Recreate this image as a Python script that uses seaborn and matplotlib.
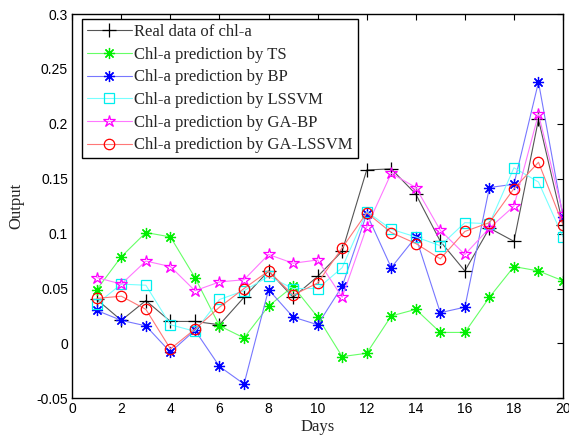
import matplotlib
matplotlib.use("Agg")
import matplotlib.pyplot as plt
import seaborn as sns
import pandas as pd

days = list(range(1, 21))
real = [0.040, 0.021, 0.039, 0.020, 0.020, 0.017, 0.042, 0.066, 0.042, 0.061,
        0.084, 0.158, 0.159, 0.136, 0.093, 0.066, 0.105, 0.093, 0.204, 0.108]
ts = [0.049, 0.079, 0.101, 0.097, 0.060, 0.016, 0.005, 0.034, 0.052, 0.024,
      -0.012, -0.009, 0.025, 0.031, 0.010, 0.010, 0.042, 0.070, 0.066, 0.057]
bp = [0.030, 0.021, 0.016, -0.008, 0.012, -0.021, -0.037, 0.049, 0.024, 0.017,
      0.052, 0.118, 0.069, 0.097, 0.028, 0.033, 0.142, 0.145, 0.238, 0.115]
lssvm = [0.036, 0.054, 0.053, 0.017, 0.011, 0.040, 0.048, 0.061, 0.050, 0.050,
         0.069, 0.120, 0.104, 0.097, 0.089, 0.110, 0.109, 0.160, 0.147, 0.097]
gabp = [0.060, 0.054, 0.075, 0.070, 0.048, 0.056, 0.058, 0.081, 0.073, 0.076,
        0.042, 0.106, 0.155, 0.142, 0.103, 0.081, 0.105, 0.125, 0.209, 0.118]
galssvm = [0.041, 0.043, 0.031, -0.005, 0.013, 0.033, 0.050, 0.066, 0.044, 0.055,
           0.087, 0.119, 0.101, 0.091, 0.077, 0.102, 0.110, 0.141, 0.165, 0.108]

labels = ["Real data of chl-a", "Chl-a prediction by TS", "Chl-a prediction by BP",
          "Chl-a prediction by LSSVM", "Chl-a prediction by GA-BP",
          "Chl-a prediction by GA-LSSVM"]
xticks = [0, 2, 4, 6, 8, 10, 12, 14, 16, 18, 20]
yticks = [-0.05, 0, 0.05, 0.1, 0.15, 0.2, 0.25, 0.3]
ytick_labels = ["-0.05", "0", "0.05", "0.1", "0.15", "0.2", "0.25", "0.3"]

sns.set_theme(style="white")
plt.rcParams["font.family"] = ["Liberation Sans", "DejaVu Sans"]

fig = plt.figure(figsize=(5.69, 4.40), dpi=100)
ax = fig.add_axes([0.127, 0.0948, 0.9895 - 0.127, 0.968 - 0.0948])

asterisk = (8, 2, 0)
styles = [
    dict(color="#555555", mec="black", marker="+", ms=10, mew=0.9),
    dict(color="#66ff66", mec="#00ee00", marker=asterisk, ms=8, mew=0.9),
    dict(color="#7777ff", mec="#0000ff", marker=asterisk, ms=8, mew=0.9),
    dict(color="#77ffff", mec="#00eeee", marker="s", ms=7.5, mew=0.9, mfc="none"),
    dict(color="#ff77ff", mec="#ff00ff", marker="*", ms=9, mew=0.9, mfc="none"),
    dict(color="#ff7777", mec="#ff0000", marker="o", ms=7.5, mew=0.9, mfc="none"),
]
series = [real, ts, bp, lssvm, gabp, galssvm]
for vals, lab, st in zip(series, labels, styles):
    df = pd.DataFrame({"Days": days, "Output": vals})
    sns.lineplot(data=df, x="Days", y="Output", ax=ax, label=lab,
                 lw=0.8, **st)

ax.set_xlim(0, 20)
ax.set_ylim(-0.05, 0.3)
ax.set_xticks(xticks)
ax.set_xticklabels([str(t) for t in xticks])
ax.set_yticks(yticks)
ax.set_yticklabels(ytick_labels)
ax.tick_params(direction="in", length=4, width=0.8, top=True, right=True,
               labelsize=10, colors="black", pad=3)
for sp in ax.spines.values():
    sp.set_color("black")
    sp.set_linewidth(1.0)
ax.set_xlabel("Days", fontsize=12, family="Liberation Serif", labelpad=2)
ax.set_ylabel("Output", fontsize=12, family="Liberation Serif", labelpad=9)

leg = ax.legend(loc="upper left", bbox_to_anchor=(0.0198, 0.987),
                borderaxespad=0, fancybox=False, framealpha=1, edgecolor="black",
                prop={"family": "Liberation Serif", "size": 12},
                handlelength=2.7, handletextpad=0.15, labelspacing=0.4,
                borderpad=0.3)
leg.get_frame().set_linewidth(1.0)

fig.savefig("out.png", dpi=100)
